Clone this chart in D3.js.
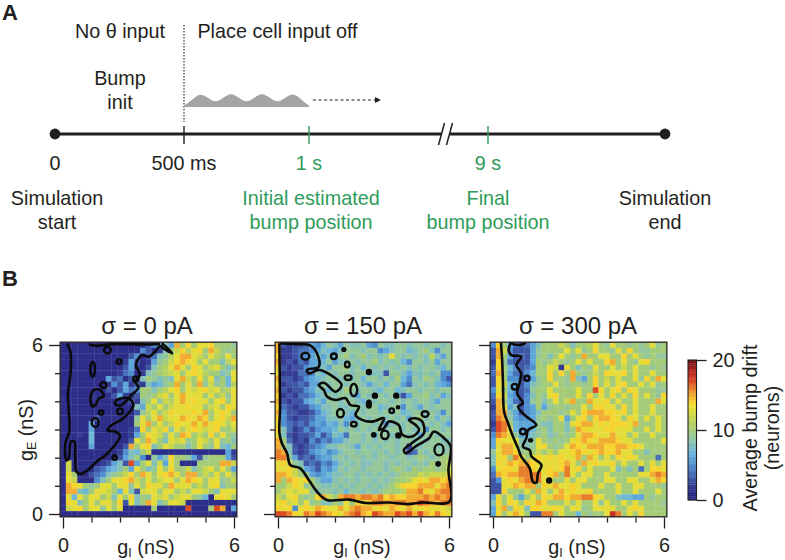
<!DOCTYPE html>
<html><head><meta charset="utf-8">
<script src="https://cdn.jsdelivr.net/npm/d3@7/dist/d3.min.js"></script>
<style>html,body{margin:0;padding:0;background:#fff}svg{display:block}text{font-family:"Liberation Sans",Arial,sans-serif;fill:#231f20}</style>
</head><body><svg id="c" width="785" height="560"></svg>
<script>
// ---- Timeline (panel A) data
const timeDomain=[0,0.5,1,5,9,10];
const timeTicksBlack=[0.5];
const timeTicksGreen=[1,9];
const timeEnds=[0,10];
const bumpT=[0.5,0.53,0.564,0.596,0.626,0.657,0.688,0.72,0.75,0.781,0.812,0.844,0.874,0.905,0.936,0.968,1];
const bumpA=[0.1,0.5,1.12,0.7,0.3,0.7,1.12,0.7,0.3,0.7,1.12,0.7,0.3,0.7,1.12,0.6,0.1];
// ---- Heatmap axes
const gValues=[0,1,2,3,4,5,6];
const majorTicks=[0,6];
const minorTicks=[1,2,3,4,5];
const panelTitles=["σ = 0 pA","σ = 150 pA","σ = 300 pA"];
const driftStops=[0,1.5,3,5,6.7,8.6,10,12.3,13.7,15.2,17,18.6,20];
const driftColors=["#2c2a85","#2e2f8c","#3f55a5","#4f8fcf","#68b4e0","#8fc6a8","#a4cb78","#d0d844","#f8e02e","#f0a431","#dc4a24","#b3221f","#701515"];
const cbTicks=[0,10,20];
// ---- Drift matrices, row 0 = gE 6 nS, row 30 = gE 0; column 0 = gI 0
const drift0=[
[1,1,1,1,1,1,1,1,1,1,1,1,1,1,1,3,5,6,8,6,15,10,14,10,13,13,14,10,10,10,9],
[1,1,1,1,1,1,1,1,1,1,1,1,1,1,5,3,1,2,8,10,12,14,11,13,14,10,15,12,10,9,10],
[1,1,1,1,1,1,1,1,1,1,1,1,3,5,1,3,4,8,9,11,13,15,15,13,12,10,13,11,10,13,10],
[1,1,1,1,1,1,1,1,1,1,1,2,6,3,1,2,6,9,10,12,14,15,14,13,10,13,10,10,8,11,13],
[1,1,1,1,1,1,1,1,1,1,1,3,6,2,1,3,8,10,11,13,15,13,10,14,13,10,12,13,10,8,10],
[1,1,1,1,1,1,1,1,1,1,2,4,5,1,2,8,9,10,11,12,13,10,13,14,13,11,10,10,8,9,13],
[1,1,1,1,1,1,1,1,6,3,4,1,3,3,8,10,9,8,9,8,13,15,12,10,14,10,13,8,10,7,13],
[1,1,1,1,1,1,1,1,2,5,3,6,2,3,2,8,6,7,9,10,15,10,13,10,15,9,12,9,10,7,11],
[1,1,1,1,1,1,1,1,3,1,3,6,4,5,10,10,8,10,11,13,14,10,13,12,13,14,12,13,10,11,13],
[1,1,1,1,1,1,1,1,1,3,6,2,1,3,10,9,10,12,13,10,13,15,13,13,13,10,13,10,12,9,13],
[1,1,1,1,1,1,1,1,1,1,1,1,3,2,8,10,13,9,12,11,13,15,13,14,13,13,10,13,14,10,13],
[1,1,1,1,1,1,1,1,1,1,1,1,1,8,6,12,10,13,10,12,13,13,14,13,13,10,12,13,10,14,13],
[1,1,1,1,1,1,1,1,1,1,1,1,1,3,9,11,13,10,12,14,13,13,13,14,13,15,10,13,14,13,10],
[1,1,1,1,1,1,3,1,1,1,1,1,1,9,13,10,13,15,12,13,13,15,14,13,15,14,10,13,14,12,15],
[1,1,1,1,1,6,1,1,1,1,1,1,1,10,13,15,10,13,10,12,14,13,13,15,13,15,13,14,13,11,13],
[1,1,1,1,1,6,1,1,1,1,1,1,2,4,14,10,13,12,14,9,13,11,13,14,13,12,13,14,10,10,12],
[1,1,1,2,1,7,1,1,1,1,1,1,2,6,10,14,13,12,9,13,10,15,14,10,12,10,14,10,13,10,9],
[1,1,1,1,1,7,1,1,1,1,1,1,3,13,10,15,13,10,8,13,12,13,9,10,13,12,10,13,9,10,8],
[1,1,1,1,1,6,1,1,1,1,1,3,15,10,13,14,8,10,13,12,10,10,8,10,13,10,9,13,8,7,10],
[1,1,1,1,1,1,1,1,1,1,2,5,8,7,10,12,1,1,1,1,1,1,1,1,1,1,1,1,1,6,2],
[1,1,1,1,1,1,1,1,1,1,3,6,8,10,5,1,9,6,8,14,10,10,9,6,3,9,10,10,10,6,3],
[1,12,1,1,1,1,1,2,3,6,8,3,17,6,10,13,8,12,6,13,10,1,1,1,10,10,10,10,15,15,12],
[1,12,1,1,1,1,3,4,6,7,8,10,6,13,10,8,9,13,10,14,10,10,12,8,10,12,13,10,13,10,6],
[1,13,10,1,1,3,4,5,8,9,10,12,14,10,15,13,10,13,14,15,13,10,15,15,10,12,10,13,10,13,10],
[1,13,12,1,1,1,5,8,10,13,13,14,15,12,10,13,10,12,13,13,10,13,15,14,13,10,13,13,9,10,12],
[1,15,14,13,10,9,10,13,13,10,13,13,9,13,10,14,13,13,10,15,13,13,13,10,12,10,13,14,8,10,10],
[1,15,15,8,7,10,13,13,12,10,7,13,8,3,12,13,13,10,13,13,10,12,10,13,13,12,10,8,13,13,13],
[1,13,7,13,10,13,13,10,12,8,13,10,14,8,10,9,13,12,13,10,12,13,13,10,9,7,1,13,14,13,10],
[1,14,13,8,10,13,10,13,13,10,14,3,13,8,10,15,13,8,10,13,13,12,1,1,1,1,1,1,1,1,1],
[1,12,13,14,10,13,13,9,13,10,13,1,1,1,1,1,10,1,1,1,1,1,17,1,1,1,10,17,15,1,6],
[1,1,1,1,1,1,1,1,1,1,1,1,1,1,1,1,1,1,1,1,1,1,1,1,1,1,1,1,1,1,1]];
const drift150=[
[15,3,2,3,3,4,6,5,7,9,8,6,9,8,8,9,6,5,9,8,8,9,9,8,9,9,8,9,9,8,9],
[15,2,2,3,4,4,5,6,8,7,6,8,9,9,9,8,9,9,5,6,8,9,9,7,8,9,10,8,5,9,9],
[14,2,2,3,4,5,6,8,6,8,7,9,10,8,9,10,8,9,8,9,13,9,8,9,8,9,8,11,8,6,9],
[15,2,3,2,4,3,6,6,7,9,6,8,8,9,8,9,9,10,8,9,8,9,7,5,9,9,8,9,6,9,9],
[14,3,2,3,3,5,6,7,8,6,9,9,10,8,9,7,9,8,9,8,9,8,9,8,9,8,9,9,8,7,9],
[13,2,2,2,4,4,5,8,7,9,8,9,9,8,9,9,7,8,8,3,9,9,8,6,8,8,9,8,9,5,5],
[15,3,3,2,3,5,6,7,8,9,9,8,9,8,9,7,9,9,8,9,8,10,7,5,9,8,10,9,8,5,3],
[14,2,3,3,4,3,6,6,9,8,9,9,8,9,9,8,6,8,9,7,9,9,6,4,8,9,8,9,7,6,5],
[15,3,2,3,3,5,6,8,8,7,9,8,10,9,8,9,9,8,7,9,9,7,8,9,9,8,9,9,8,9,9],
[14,2,3,2,4,4,5,7,8,9,8,9,9,8,6,9,8,9,9,8,9,8,3,6,9,9,10,8,9,6,8],
[15,3,2,3,3,6,7,8,6,9,9,8,9,9,8,7,9,8,9,9,8,9,8,9,8,9,9,8,6,9,9],
[14,4,3,2,3,3,5,6,8,8,9,8,8,9,9,8,9,9,7,8,9,9,5,9,8,6,9,8,9,9,9],
[15,5,3,3,2,2,3,5,7,8,9,9,8,7,9,8,9,9,8,9,8,9,7,8,9,9,8,9,8,5,9],
[14,5,3,2,3,3,4,6,6,8,8,9,7,6,8,9,8,9,9,8,9,8,9,6,9,10,8,9,7,9,8],
[13,5,4,3,4,3,5,6,5,7,6,8,5,9,8,9,9,8,9,5,8,9,8,9,9,8,9,8,9,8,6],
[14,8,4,2,3,5,3,5,6,6,7,9,8,9,8,9,8,9,9,8,9,9,8,9,8,9,5,9,9,8,9],
[13,8,3,2,3,3,4,6,3,5,8,7,4,9,9,8,9,7,9,9,8,9,9,8,9,6,9,9,8,9,9],
[15,10,4,2,3,2,5,3,5,4,6,6,8,9,9,8,9,8,9,8,9,8,9,9,8,9,8,9,9,8,8],
[15,10,8,3,2,3,4,5,6,8,8,9,9,8,6,9,8,9,8,9,9,8,9,2,9,8,9,9,8,9,8],
[16,15,8,3,2,3,5,6,7,5,6,8,9,9,8,9,9,8,9,8,9,8,9,3,4,9,8,9,9,8,9],
[16,16,9,6,3,4,3,5,6,6,8,9,8,9,9,8,9,8,9,9,8,9,9,8,9,10,9,8,9,10,10],
[13,14,12,9,8,3,4,3,5,4,6,8,9,8,9,8,8,9,9,8,9,8,9,9,8,9,8,10,9,10,11],
[13,13,14,12,9,6,5,3,6,5,7,9,8,9,9,8,9,9,9,8,9,10,9,8,10,9,10,10,9,10,12],
[15,15,14,12,10,9,6,5,6,7,8,8,9,9,8,9,8,9,8,9,8,9,10,10,10,12,11,12,12,12,13],
[15,10,15,14,13,14,10,8,6,6,8,9,8,9,8,9,9,8,9,8,9,10,10,11,13,14,13,15,15,14,15],
[10,10,12,14,13,9,10,9,8,8,9,8,9,8,9,9,8,9,8,9,10,12,14,14,14,15,15,15,13,15,16],
[10,12,13,12,13,13,9,8,9,9,8,9,7,9,9,8,9,8,9,10,10,10,11,15,15,16,14,13,15,16,16],
[12,10,13,14,10,9,10,14,15,12,10,15,16,16,15,16,16,15,16,14,15,14,14,15,15,15,16,15,16,15,16],
[13,14,12,13,10,13,9,10,8,8,10,9,13,10,14,13,14,16,16,15,15,16,16,15,15,17,16,15,15,16,16],
[14,13,14,5,13,14,13,15,14,13,13,15,13,15,16,15,15,13,14,13,15,14,13,15,13,13,14,13,13,13,12],
[17,17,16,14,13,16,15,17,16,15,14,13,15,16,17,15,14,17,16,15,15,17,16,17,15,17,15,14,16,14,13]];
const drift300=[
[5,14,10,6,4,3,4,6,8,10,10,10,12,10,8,10,10,11,13,10,9,13,10,10,9,10,9,10,13,9,10],
[3,15,12,5,3,3,3,6,9,10,10,10,10,13,10,13,9,10,14,10,10,9,13,10,14,10,9,9,10,10,10],
[3,15,10,6,3,4,3,6,9,10,8,10,13,10,9,10,15,10,10,13,13,10,10,14,10,13,10,9,10,9,9],
[2,14,9,4,3,3,3,6,10,9,10,12,10,9,10,13,10,13,10,10,14,15,10,13,10,9,13,14,10,10,10],
[3,14,10,7,5,3,4,5,10,10,13,12,2,13,10,8,10,9,13,10,10,13,10,12,10,13,10,10,9,10,9],
[4,15,10,6,4,3,5,7,10,10,14,10,14,10,15,10,9,10,12,10,14,13,13,14,10,13,10,10,13,10,10],
[3,14,10,5,5,3,4,6,9,10,14,10,10,9,15,8,6,10,14,10,12,10,13,10,10,13,9,14,10,15,13],
[3,14,12,7,6,3,5,8,9,10,10,13,10,9,10,10,9,10,14,10,13,10,13,14,10,10,13,10,13,9,10],
[5,13,10,7,5,3,4,9,10,10,13,10,10,10,10,13,10,10,17,14,10,13,14,10,14,13,10,10,10,9,9],
[4,14,12,6,5,3,5,8,10,9,13,14,10,10,10,13,10,14,10,13,10,14,10,13,10,14,10,13,10,9,14],
[3,15,10,7,4,3,5,9,10,8,10,13,10,12,15,10,10,15,13,13,14,10,13,10,10,13,10,10,10,15,13],
[2,15,13,6,8,3,5,6,10,6,9,10,10,9,10,10,13,10,14,14,13,13,10,14,10,13,10,10,13,10,10],
[3,15,15,8,6,3,5,6,8,10,10,10,9,10,13,10,14,15,15,15,14,14,13,14,10,13,10,10,13,10,10],
[3,16,15,9,6,5,5,6,9,10,9,10,13,6,10,13,14,10,14,15,15,14,13,10,14,13,10,13,10,13,10],
[2,17,16,10,7,6,6,6,9,8,8,10,10,8,13,14,15,15,13,14,13,14,14,14,13,15,10,10,10,13,10],
[3,17,16,13,7,6,6,7,9,10,8,10,10,8,10,15,14,13,13,13,14,14,13,13,13,10,10,13,10,13,10],
[5,16,15,13,9,6,7,8,9,10,8,9,10,9,10,13,15,15,14,13,13,15,13,13,10,13,10,10,13,10,10],
[6,14,13,13,13,8,8,9,13,10,9,10,9,10,13,14,15,14,13,15,15,15,14,13,13,10,10,10,10,10,13],
[6,13,15,15,13,9,8,9,13,14,10,9,10,13,15,14,13,15,15,15,14,14,15,15,14,14,13,10,10,10,10],
[9,13,15,15,14,9,10,10,12,10,12,10,13,13,14,15,14,13,14,15,14,14,15,13,13,10,10,8,10,10,10],
[8,13,14,10,16,14,10,13,14,13,14,13,14,13,13,15,10,15,13,10,13,10,14,13,14,13,10,10,10,4,10],
[8,14,13,15,14,15,15,14,13,13,13,13,14,15,13,10,15,13,14,13,13,14,10,13,10,10,13,10,13,10,13],
[5,13,14,14,13,16,16,14,13,13,14,13,14,16,13,14,10,13,10,10,10,13,8,10,8,10,4,10,14,14,13],
[4,15,14,15,15,16,16,16,16,13,14,15,10,16,13,10,13,13,10,10,13,10,10,10,10,10,13,13,15,16,15],
[3,5,13,14,13,15,16,16,16,13,13,10,10,13,10,13,13,10,10,10,13,13,10,10,13,13,10,10,13,15,14],
[3,3,13,13,15,14,15,15,10,14,13,15,13,13,14,13,10,10,10,13,10,10,13,10,10,13,13,10,10,10,9],
[3,3,14,10,10,10,13,10,15,13,10,13,15,13,14,13,13,14,10,10,10,10,13,10,10,13,10,10,10,13,10],
[6,13,10,13,9,6,10,13,10,14,13,15,15,14,15,15,16,16,14,13,10,10,8,7,7,6,6,10,9,10,10],
[8,14,10,14,13,10,14,13,15,14,10,10,10,13,10,13,10,10,13,9,13,10,10,13,10,13,10,10,10,10,9],
[6,13,15,9,14,13,8,14,14,13,13,14,13,10,13,13,9,10,13,13,13,13,10,10,13,14,13,10,10,10,10],
[6,14,10,13,15,13,10,3,3,16,16,10,13,10,10,7,10,9,10,10,13,18,16,10,13,10,14,10,10,10,10]];
// ---- Contour lines [gI, gE] in nS
const contour0=[
[[.14,6.06],[.26,5.76],[.28,5.23],[.23,4.7],[.17,4.29],[.2,3.7],[.22,2.93],[.08,2.51],[.12,1.9],[.2,1.98],[.28,2.57],[.4,2.57],[.43,2.04],[.47,1.51],[.61,1.42],[.86,1.55],[1.19,1.87],[1.48,2.08],[1.83,2.46],[2,2.77],[1.83,2.93],[1.56,2.96],[1.71,3.16],[2.06,3.36],[2.35,3.64],[2.47,3.87],[2.3,4.11],[1.89,4.05],[1.83,3.91],[2.02,3.85],[2.41,4.23],[2.65,4.5],[2.53,4.7],[2.7,4.94],[2.56,5.29],[2.76,5.64],[3,5.58],[3.23,5.76],[3.4,5.96],[3.58,5.84],[3.83,5.7],[3.64,5.91],[3.46,6.06]],
[[.9,6.02],[1.2,5.97],[1.55,6.02],[2,6.04],[2.9,6.02],[3.4,6.04]],
[[1.02,3.8],[.96,4.11],[1.08,4.4],[1.31,4.4],[1.43,4.17],[1.26,4.11],[1.14,3.87],[1.02,3.8]]];
const blobs0=[[1.56,5.82,.12,.12],[1.97,5.41,.09,.08],[1.04,5.14,.08,.26],[1.42,4.58,.11,.1],[2,3.64,.1,.1],[1.34,3.6,.075,.075],[1.13,3.25,.12,.16],[1.81,2,.075,.075],[2.55,4.79,.09,.09]];
const contour150=[
[[.05,6.06],[.06,4.88],[.07,3.7],[.05,2.87],[.14,2.5],[.32,2.15],[.43,1.74],[.78,1.62],[1.08,1.21],[1.37,.79],[1.72,.5],[2.49,.51],[3.07,.39],[3.89,.41],[4.54,.35],[5.06,.41],[6.03,.45],[5.98,1.57],[6.06,2.4],[5.83,2.69],[5.47,2.93],[5.3,2.69],[5.12,2.57],[4.83,2.4],[4.48,2.16],[4.42,2.28],[4.77,2.57],[5.12,2.87],[5.06,3.28],[4.83,3.4],[4.6,3.34],[4.83,3.16],[4.95,2.99],[4.71,2.75],[4.36,2.81],[4.24,3.16],[3.89,3.28],[3.72,3.05],[3.54,2.99],[3.72,3.4],[3.31,3.28],[2.95,3.34],[2.72,3.52],[2.84,3.81],[2.54,3.87],[2.37,4.11],[2.02,4.05],[1.72,4.17],[1.61,4.4],[1.43,4.58],[1.61,4.66],[2.02,4.34],[2.23,4.58],[1.84,4.94],[1.43,5.11],[1.08,4.99],[1.02,5.11],[1.43,5.23],[1.37,5.7],[1.14,5.98],[.67,6.03],[.3,6.05],[.05,6.06]]];
const blobs150=[[.96,5.6,.14,.12],[1.96,5.6,.1,.1],[2.43,5.31,.08,.1],[2.31,5.84,.05,.05],[3.19,5.04,.07,.07],[2.46,4.84,.12,.08],[2.66,4.4,.12,.22],[3.4,4.2,.07,.07],[4.15,4.2,.07,.07],[3.19,3.9,.07,.12],[3.99,3.67,.08,.08],[4.21,3.79,.04,.04],[2.19,3.58,.12,.15],[5.16,3.55,.12,.1],[2.66,3.19,.1,.08],[3.36,2.81,.06,.06],[3.75,2.81,.13,.15],[4.22,2.79,.07,.07],[5.65,2.28,.16,.2],[5.62,1.78,.06,.06]];
const contour300=[
[[.27,6.18],[.32,5.47],[.35,4.64],[.39,3.63],[.53,3.22],[.7,2.75],[.88,2.33],[.99,2.04],[1.29,1.62],[1.4,1.15],[1.52,1.11],[1.58,1.44],[1.7,1.74],[1.35,2.04],[1.29,2.27],[1.05,2.39],[1.17,2.69],[1.23,2.98],[1.52,3.16],[1.11,3.51],[.88,3.81],[1.05,3.93],[.85,4.28],[.93,4.64],[.99,4.99],[.82,5.29],[.99,5.59],[.64,5.64],[.55,5.82],[.64,6.12]]];
const blobs300=[[1.19,4.82,.09,.09],[.76,4.52,.1,.1],[1.05,2.93,.1,.1],[1.32,2.62,.05,.04],[1.97,1.19,.07,.07],[.88,6.1,.25,.1]];

const ink="#231f20",green="#2f9b5a";
const baseSize=19.8;
const svg=d3.select("#c");
function label(g,x,y,t,o={}){
  const e=g.append("text").attr("x",x).attr("y",y).attr("text-anchor",o.anchor||"middle")
    .style("font-size",(o.size||baseSize)+"px").style("font-weight",o.bold?"700":"400").style("fill",o.fill||ink).text(t);
  return e;
}
// ---- Panel A
const A=svg.append("g");
label(A,2,20,"A",{anchor:"start",size:22,bold:true});
label(A,2,286,"B",{anchor:"start",size:22,bold:true});
const tx=d3.scaleLinear().domain(timeDomain).range([55,184,309,446,488,665]);
const ty=134;
A.append("line").attr("x1",tx(0)).attr("x2",tx(10)).attr("y1",ty).attr("y2",ty).attr("stroke",ink).attr("stroke-width",3);
A.selectAll("circle.end").data(timeEnds).join("circle").attr("cx",d=>tx(d)).attr("cy",ty).attr("r",5.4).attr("fill",ink);
A.selectAll("line.tb").data(timeTicksBlack).join("line").attr("x1",d=>tx(d)).attr("x2",d=>tx(d)).attr("y1",126).attr("y2",144).attr("stroke",ink).attr("stroke-width",1.4);
A.selectAll("line.tg").data(timeTicksGreen).join("line").attr("x1",d=>tx(d)).attr("x2",d=>tx(d)).attr("y1",126).attr("y2",144).attr("stroke",green).attr("stroke-width",1.4);
// axis break
A.append("rect").attr("x",tx(5)-5).attr("y",ty-3).attr("width",9).attr("height",6).attr("fill","#fff");
[-5,3].forEach(d=>A.append("line").attr("x1",tx(5)+d-2.5).attr("x2",tx(5)+d+3.5).attr("y1",145).attr("y2",123).attr("stroke",ink).attr("stroke-width",1.5));
A.append("line").attr("x1",tx(.5)).attr("x2",tx(.5)).attr("y1",25).attr("y2",122).attr("stroke",ink).attr("stroke-width",1.1).attr("stroke-dasharray","1.5 1.5");
const by=d3.scaleLinear([0,1],[107,94]);
A.append("path").attr("fill","#a3a4a6").attr("d",d3.area().x((d,i)=>tx(bumpT[i])).y0(by(0)).y1(d=>by(d)).curve(d3.curveBasis)(bumpA));
A.append("line").attr("x1",313).attr("x2",376).attr("y1",100).attr("y2",100).attr("stroke",ink).attr("stroke-width",1.2).attr("stroke-dasharray","3 2.5");
A.append("path").attr("d","M375,97L381,100L375,103Z").attr("fill",ink);
label(A,120,38,"No θ input");
label(A,277.5,38,"Place cell input off");
label(A,120,85,"Bump");
label(A,120,109,"init");
label(A,55,170,"0");
label(A,184,170,"500 ms");
label(A,309,170,"1 s",{fill:green});
label(A,488,170,"9 s",{fill:green});
label(A,57,205,"Simulation");
label(A,57,229,"start");
label(A,311,205,"Initial estimated",{fill:green});
label(A,311,229,"bump position",{fill:green});
label(A,488,205,"Final",{fill:green});
label(A,488,229,"bump position",{fill:green});
label(A,665,205,"Simulation");
label(A,665,229,"end");
// ---- Panel B
const color=d3.scaleLinear().domain(driftStops).range(driftColors).clamp(true);
const sx=d3.scaleLinear([0,6],[0,171]);
const sy=d3.scaleLinear([0,6],[169,0]);
const stepX=sx(0.2)-sx(0),stepY=sy(0)-sy(0.2);
const panels=[
 {x:63,m:drift0,c:contour0,b:blobs0,t:panelTitles[0],tx:147,ylabels:true},
 {x:278,m:drift150,c:contour150,b:blobs150,t:panelTitles[1],tx:363,ylabels:false},
 {x:493,m:drift300,c:contour300,b:blobs300,t:panelTitles[2],tx:578,ylabels:false}];
const lineGen=d3.line().x(d=>sx(d[0])).y(d=>sy(d[1])).curve(d3.curveCatmullRom.alpha(.5));
panels.forEach((p,pi)=>{
  const g=svg.append("g").attr("transform",`translate(${p.x},345)`);
  const cid="clip"+pi;
  g.append("clipPath").attr("id",cid).append("rect").attr("x",-stepX/2).attr("y",-stepY/2).attr("width",stepX*31).attr("height",stepY*31);
  const cells=[];
  p.m.forEach((row,r)=>row.forEach((v,c)=>cells.push({r,c,v})));
  const hm=g.append("g").attr("clip-path",`url(#${cid})`);
  hm.selectAll("rect").data(cells).join("rect")
    .attr("x",d=>sx(d.c*0.2)-stepX/2).attr("y",d=>sy(6-d.r*0.2)-stepY/2)
    .attr("width",stepX+.3).attr("height",stepY+.3).attr("fill",d=>color(d.v));
  hm.selectAll("path.k").data(p.c).join("path").attr("fill","none").attr("stroke","#0b0b0b").attr("stroke-width",2.6).attr("stroke-linejoin","round").attr("d",lineGen);
  hm.selectAll("ellipse").data(p.b).join("ellipse").attr("cx",d=>sx(d[0])).attr("cy",d=>sy(d[1]))
    .attr("rx",d=>sx(d[2])-sx(0)).attr("ry",d=>sy(0)-sy(d[3])).attr("fill",d=>d[2]<=.07?"#0b0b0b":"none").attr("stroke","#0b0b0b").attr("stroke-width",2.4);
  g.append("rect").attr("x",-stepX/2).attr("y",-stepY/2).attr("width",stepX*31).attr("height",stepY*31).attr("fill","none").attr("stroke",ink).attr("stroke-width",1.3);
  // axes
  const xMaj=d3.axisBottom(sx).tickValues(majorTicks).tickSize(11).tickPadding(9).tickFormat(d3.format("d"));
  const xMin=d3.axisBottom(sx).tickValues(minorTicks).tickSize(5).tickFormat("");
  const yMaj=d3.axisLeft(sy).tickValues(majorTicks).tickSize(11).tickPadding(6).tickFormat(p.ylabels?d3.format("d"):"");
  const yMin=d3.axisLeft(sy).tickValues(minorTicks).tickSize(5).tickFormat("");
  [[xMaj,`translate(0,172.5)`],[xMin,`translate(0,172.5)`],[yMaj,`translate(-3,0)`],[yMin,`translate(-3,0)`]].forEach(([ax,tr])=>{
    const a=g.append("g").attr("transform",tr).call(ax);
    a.select(".domain").remove();
    a.selectAll("line").attr("stroke",ink).attr("stroke-width",1.3);
    a.selectAll("text").style("font-size",baseSize+"px").style("fill",ink).style("font-family",'"Liberation Sans",Arial,sans-serif');
  });
  label(svg,p.tx,334,p.t,{size:24});
  const xl=label(svg,p.tx-1,554,"",{});
  xl.append("tspan").text("g");
  xl.append("tspan").attr("dy",3).style("font-size","12.5px").text("I");
  xl.append("tspan").attr("dy",-3).text(" (nS)");
});
// y title
const yl=svg.append("text").attr("transform","translate(33,430) rotate(-90)").attr("text-anchor","middle").style("font-size",baseSize+"px");
yl.append("tspan").text("g");
yl.append("tspan").attr("dy",3).style("font-size","12.5px").text("E");
yl.append("tspan").attr("dy",-3).text(" (nS)");
// colour bar
const cb=d3.scaleLinear([0,20],[500,360]);
svg.selectAll("rect.cb").data(d3.range(0,20,.25)).join("rect").attr("x",688).attr("width",8.5)
  .attr("y",d=>cb(d+.25)).attr("height",cb(0)-cb(.25)+.3).attr("fill",d=>color(d+.125));
svg.append("rect").attr("x",688).attr("y",360).attr("width",8.5).attr("height",140).attr("fill","none").attr("stroke",ink).attr("stroke-width",1.1);
const cax=svg.append("g").attr("transform","translate(696.5,0)").call(d3.axisRight(cb).tickValues(cbTicks).tickSize(10).tickPadding(6).tickFormat(d3.format("d")));
cax.select(".domain").remove();
cax.selectAll("line").attr("stroke",ink).attr("stroke-width",1.3);
cax.selectAll("text").style("font-size",baseSize+"px").style("fill",ink).style("font-family",'"Liberation Sans",Arial,sans-serif');
svg.append("text").attr("transform","translate(757,428) rotate(-90)").attr("text-anchor","middle").style("font-size",baseSize+"px").text("Average bump drift");
svg.append("text").attr("transform","translate(779,428) rotate(-90)").attr("text-anchor","middle").style("font-size",baseSize+"px").text("(neurons)");
</script></body></html>
